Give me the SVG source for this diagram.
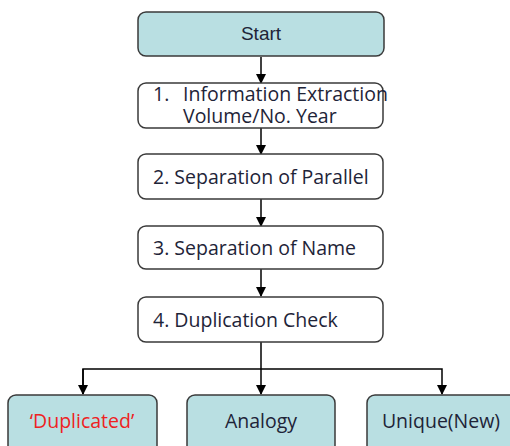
<svg xmlns="http://www.w3.org/2000/svg" width="510" height="446" viewBox="0 0 510 446">
<style>
.box{fill:#ffffff;stroke:#3a3a3a;stroke-width:1.5}
.teal{fill:#b9dfe2;stroke:#3a3a3a;stroke-width:1.5}
.t{font-family:"Open Sans","Noto Sans",sans-serif;font-size:19.5px;fill:#1e2438}
.s{font-family:"Liberation Sans",Arial,sans-serif;font-size:19px;fill:#1e2438}
.c{stroke:#000;stroke-width:1.5;fill:none}
</style>
<defs>
<marker id="ah" markerWidth="10" markerHeight="10" refX="9" refY="5" orient="auto" markerUnits="userSpaceOnUse">
<path d="M0,0 L10,5 L0,10 z" fill="#000"/>
</marker>
</defs>
<g id="connectors">
<line class="c" x1="261" y1="57" x2="261" y2="83" marker-end="url(#ah)"/>
<line class="c" x1="261" y1="128" x2="261" y2="154" marker-end="url(#ah)"/>
<line class="c" x1="261" y1="199" x2="261" y2="226" marker-end="url(#ah)"/>
<line class="c" x1="261" y1="269" x2="261" y2="296" marker-end="url(#ah)"/>
<line class="c" x1="261" y1="342" x2="261" y2="394" marker-end="url(#ah)"/>
<polyline class="c" points="83,394 83,369 442,369 442,394" marker-end="url(#ah)"/>
<line class="c" x1="83" y1="369" x2="83" y2="394" marker-end="url(#ah)"/>
</g>
<g id="start">
<rect class="teal" x="138" y="12" width="246" height="44" rx="8"/>
<text class="s" x="261" y="40" text-anchor="middle">Start</text>
</g>
<g id="step1">
<rect class="box" x="138" y="83" width="245" height="45" rx="8"/>
<text class="t" x="153" y="101">1.  <tspan x="183">Information Extraction</tspan></text>
<text class="t" x="183" y="123">Volume/No. Year</text>
</g>
<g id="step2">
<rect class="box" x="138" y="154" width="245" height="45" rx="8"/>
<text class="t" x="153" y="184">2. Separation of Parallel</text>
</g>
<g id="step3">
<rect class="box" x="138" y="226" width="245" height="43" rx="8"/>
<text class="t" x="153" y="255">3. Separation of Name</text>
</g>
<g id="step4">
<rect class="box" x="138" y="297" width="245" height="45" rx="8"/>
<text class="t" x="153" y="327">4. Duplication Check</text>
</g>
<g id="duplicated">
<rect class="teal" x="8" y="395" width="149" height="65" rx="8"/>
<text class="t" x="82" y="428" text-anchor="middle" style="fill:#ee2222">‘Duplicated’</text>
</g>
<g id="analogy">
<rect class="teal" x="187" y="395" width="148" height="65" rx="8"/>
<text class="t" x="261" y="428" text-anchor="middle">Analogy</text>
</g>
<g id="unique">
<rect class="teal" x="367" y="395" width="150" height="65" rx="8"/>
<text class="t" x="441" y="428" text-anchor="middle">Unique(New)</text>
</g>
</svg>
